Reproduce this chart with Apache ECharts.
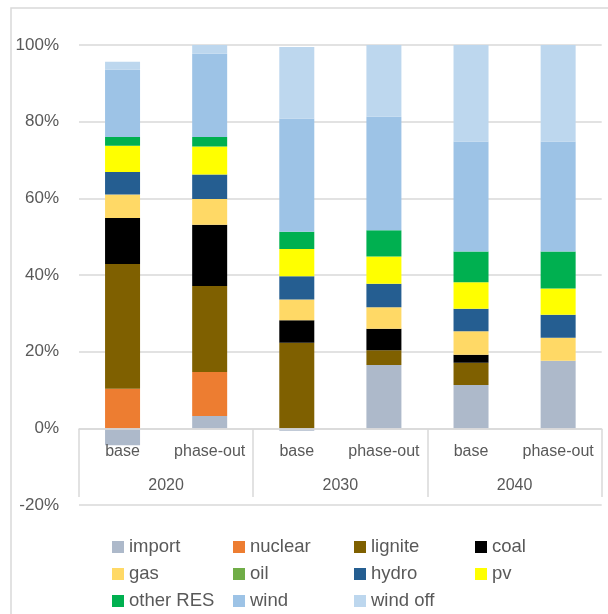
<!DOCTYPE html>
<html>
<head>
<meta charset="utf-8">
<script src="https://cdn.jsdelivr.net/npm/echarts@6/dist/echarts.min.js"></script>
<style>
html,body{margin:0;padding:0;background:#fff;}
#chart{width:608px;height:614px;}
</style>
</head>
<body>
<div id="chart"></div>
<script>
// categories
const scenarios = ['base', 'phase-out', 'base', 'phase-out', 'base', 'phase-out'];
const years = ['2020', '2030', '2040'];
// series values (% share), order: 2020 base, 2020 phase-out, 2030 base, 2030 phase-out, 2040 base, 2040 phase-out
const importVals  = [-4.4, 3.2, -0.6, 16.5, 11.3, 17.6];
const nuclearVals = [10.3, 11.5, 0, 0, 0, 0];
const ligniteVals = [32.6, 22.4, 22.3, 3.9, 5.8, 0];
const coalVals    = [12.0, 16.0, 5.9, 5.6, 2.1, 0];
const gasVals     = [6.1, 6.7, 5.4, 5.6, 6.1, 6.0];
const oilVals     = [0, 0, 0, 0, 0, 0];
const hydroVals   = [5.9, 6.4, 6.1, 6.1, 5.9, 6.0];
const pvVals      = [6.8, 7.3, 7.1, 7.1, 6.9, 6.9];
const otherResVals= [2.3, 2.5, 4.5, 6.9, 8.0, 9.6];
const windVals    = [17.6, 21.7, 29.5, 29.6, 28.7, 28.7];
const windOffVals = [2.0, 2.3, 18.7, 18.7, 25.2, 25.2];
// y ticks
const yMin = -20, yMax = 100, yStep = 20;

const seriesDefs = [
  ['import', importVals, '#ADB9CA'],
  ['nuclear', nuclearVals, '#ED7D31'],
  ['lignite', ligniteVals, '#7F6000'],
  ['coal', coalVals, '#000000'],
  ['gas', gasVals, '#FFD966'],
  ['oil', oilVals, '#70AD47'],
  ['hydro', hydroVals, '#255E91'],
  ['pv', pvVals, '#FFFF00'],
  ['other RES', otherResVals, '#00B050'],
  ['wind', windVals, '#9DC3E6'],
  ['wind off', windOffVals, '#BDD7EE']
];

const FONT = 'Liberation Sans';
const TXT = '#595959';
const GRID = '#d9d9d9';
const GRID_TOP = 45, GRID_BOTTOM = 109, H = 614;
const plotH = H - GRID_TOP - GRID_BOTTOM;
const zeroOffset = -plotH * (0 - yMin) / (yMax - yMin); // move scenario axis up to the 0 line

const chart = echarts.init(document.getElementById('chart'), null, {renderer: 'canvas'});
chart.setOption({
  animation: false,
  backgroundColor: '#ffffff',
  textStyle: {fontFamily: FONT},
  graphic: [{
    type: 'rect',
    shape: {x: 11, y: 8, width: 620, height: 640},
    style: {fill: 'none', stroke: GRID, lineWidth: 1.5},
    silent: true,
    z: -10
  }],
  grid: {left: 79, right: 6.3, top: GRID_TOP, bottom: GRID_BOTTOM, containLabel: false},
  legend: {
    left: 107, top: 531, width: 490,
    itemWidth: 12, itemHeight: 12, itemGap: 5,
    icon: 'rect',
    textStyle: {fontFamily: FONT, fontSize: 18.5, color: TXT, width: 99, lineHeight: 22},
    data: seriesDefs.map(d => d[0])
  },
  xAxis: [{
    type: 'category',
    data: scenarios,
    position: 'bottom',
    offset: zeroOffset,
    axisLine: {show: true, onZero: false, lineStyle: {color: GRID, width: 1.5}},
    axisTick: {show: false},
    axisLabel: {color: TXT, fontSize: 16, fontFamily: FONT, margin: 15, interval: 0},
    splitLine: {show: false},
    z: 5
  }, {
    type: 'category',
    data: years,
    position: 'bottom',
    offset: -8,
    axisLine: {show: false, onZero: false},
    axisTick: {show: true, inside: true, length: 68, interval: 0, lineStyle: {color: GRID, width: 1.5}},
    axisLabel: {inside: true, color: TXT, fontSize: 16, fontFamily: FONT, margin: 3, interval: 0},
    splitLine: {show: false}
  }],
  yAxis: {
    type: 'value',
    min: yMin, max: yMax, interval: yStep,
    axisLine: {show: false},
    axisTick: {show: false},
    axisLabel: {formatter: '{value}%', color: TXT, fontSize: 17, fontFamily: FONT, margin: 20},
    splitLine: {lineStyle: {color: GRID, width: 1.5}}
  },
  series: seriesDefs.map(d => ({
    name: d[0],
    type: 'bar',
    stack: 'total',
    xAxisIndex: 0,
    barWidth: 35,
    data: d[1],
    itemStyle: {color: d[2]},
    emphasis: {disabled: true}
  }))
});
</script>
</body>
</html>
